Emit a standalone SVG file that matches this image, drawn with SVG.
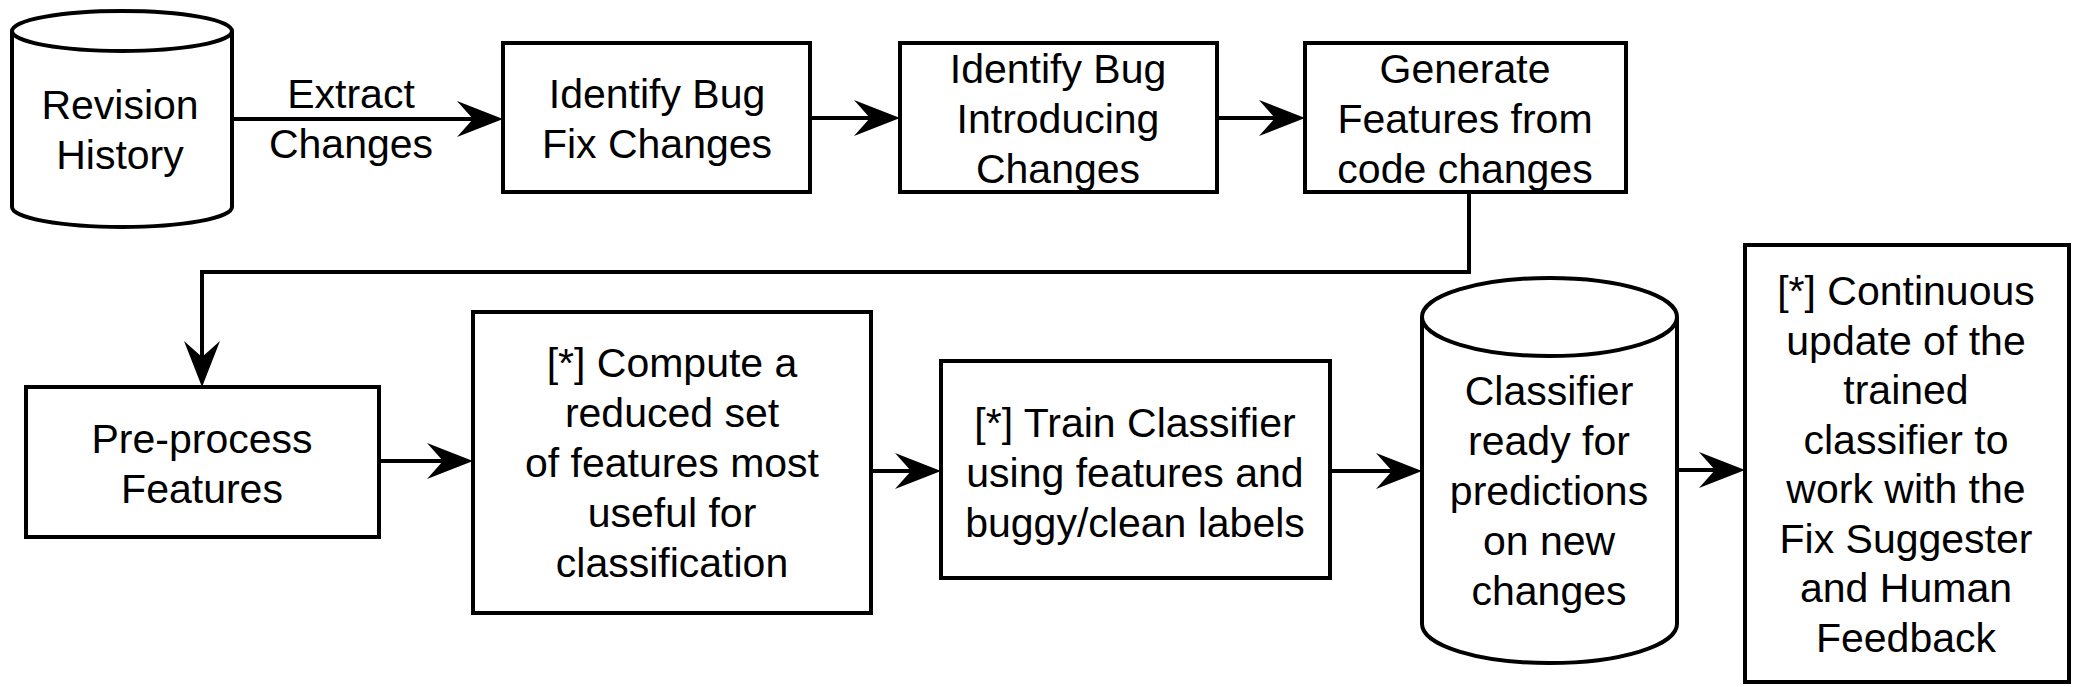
<svg xmlns="http://www.w3.org/2000/svg" width="2079" height="687" viewBox="0 0 2079 687">
<style>
.box{fill:#fff;stroke:#000;stroke-width:4}
.cyl{fill:#fff;stroke:#000;stroke-width:4}
.edge{fill:none;stroke:#000;stroke-width:4;marker-end:url(#arr)}
text{font-family:"Liberation Sans",Arial,Helvetica,sans-serif;font-size:41px;fill:#000;text-anchor:middle}
</style>
<defs>
<marker id="arr" markerUnits="userSpaceOnUse" viewBox="-25 -20 52 40" refX="0" refY="0" markerWidth="52" markerHeight="40" orient="auto">
<path d="M25,0 L-21,-18 L-5,0 L-21,18 Z" fill="#000"/>
</marker>
</defs>
<rect width="2079" height="687" fill="#fff"/>
<g id="connectors">
<line class="edge" x1="232" y1="119" x2="478" y2="119"/>
<line class="edge" x1="810" y1="118" x2="875" y2="118"/>
<line class="edge" x1="1217" y1="118" x2="1280" y2="118"/>
<polyline class="edge" points="1469,192 1469,272 202,272 202,362"/>
<line class="edge" x1="379" y1="461" x2="448" y2="461"/>
<line class="edge" x1="871" y1="471" x2="916" y2="471"/>
<line class="edge" x1="1330" y1="471" x2="1397" y2="471"/>
<line class="edge" x1="1677" y1="470" x2="1720" y2="470"/>
<text x="351" y="108">Extract</text>
<text x="351" y="158">Changes</text>
</g>
<g id="revision-history">
<path class="cyl" d="M12,31 L12,207 A110,20 0 0 0 232,207 L232,31"/>
<ellipse class="cyl" cx="122" cy="31" rx="110" ry="20"/>
<text x="120" y="119">Revision</text>
<text x="120" y="169">History</text>
</g>
<g id="identify-bug-fix">
<rect class="box" x="503" y="43" width="307" height="149"/>
<text x="657" y="108">Identify Bug</text>
<text x="657" y="158">Fix Changes</text>
</g>
<g id="identify-bug-introducing">
<rect class="box" x="900" y="43" width="317" height="149"/>
<text x="1058" y="83">Identify Bug</text>
<text x="1058" y="133">Introducing</text>
<text x="1058" y="183">Changes</text>
</g>
<g id="generate-features">
<rect class="box" x="1305" y="43" width="321" height="149"/>
<text x="1465" y="83">Generate</text>
<text x="1465" y="133">Features from</text>
<text x="1465" y="183">code changes</text>
</g>
<g id="preprocess">
<rect class="box" x="26" y="387" width="353" height="150"/>
<text x="202" y="453">Pre-process</text>
<text x="202" y="503">Features</text>
</g>
<g id="compute-reduced">
<rect class="box" x="473" y="312" width="398" height="301"/>
<text x="672" y="377">[*] Compute a</text>
<text x="672" y="427">reduced set</text>
<text x="672" y="477">of features most</text>
<text x="672" y="527">useful for</text>
<text x="672" y="577">classification</text>
</g>
<g id="train-classifier">
<rect class="box" x="941" y="361" width="389" height="217"/>
<text x="1135" y="437">[*] Train Classifier</text>
<text x="1135" y="487">using features and</text>
<text x="1135" y="537">buggy/clean labels</text>
</g>
<g id="classifier-ready">
<path class="cyl" d="M1422,317 L1422,624 A127.5,39 0 0 0 1677,624 L1677,317"/>
<ellipse class="cyl" cx="1549.5" cy="317" rx="127.5" ry="39"/>
<text x="1549" y="405">Classifier</text>
<text x="1549" y="455">ready for</text>
<text x="1549" y="505">predictions</text>
<text x="1549" y="555">on new</text>
<text x="1549" y="605">changes</text>
</g>
<g id="continuous-update">
<rect class="box" x="1745" y="245" width="324" height="437"/>
<text x="1906" y="305">[*] Continuous</text>
<text x="1906" y="354.5">update of the</text>
<text x="1906" y="404">trained</text>
<text x="1906" y="453.5">classifier to</text>
<text x="1906" y="503">work with the</text>
<text x="1906" y="552.5">Fix Suggester</text>
<text x="1906" y="602">and Human</text>
<text x="1906" y="651.5">Feedback</text>
</g>
</svg>
